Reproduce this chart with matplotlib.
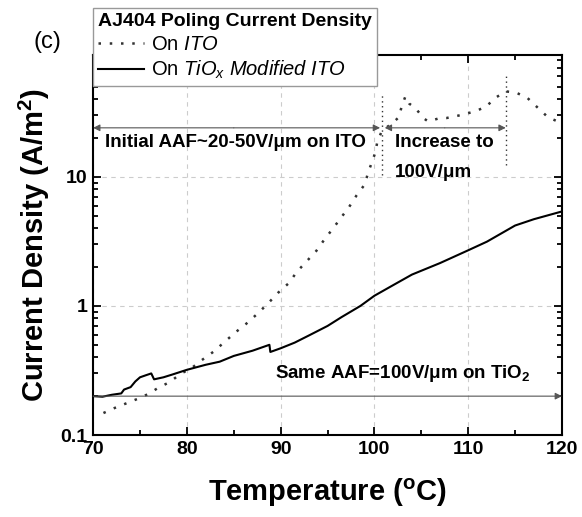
import matplotlib
matplotlib.use('Agg')
import matplotlib.pyplot as plt
from matplotlib.ticker import MultipleLocator, LogLocator, NullFormatter, FixedLocator, FixedFormatter

plt.rcParams['font.family'] = ['Liberation Sans', 'DejaVu Sans']
plt.rcParams['mathtext.fontset'] = 'custom'
plt.rcParams['mathtext.rm'] = 'Liberation Sans'
plt.rcParams['mathtext.it'] = 'Liberation Sans:italic'
plt.rcParams['mathtext.bf'] = 'Liberation Sans:bold'

# ITO (dotted) - temperature (C), current density (A/m^2)
ito_t = [71.1, 72.3, 74.7, 75.9, 76.9, 78.2, 79.3, 80.5, 81.6, 82.8, 83.9, 85.1,
         86.3, 87.5, 88.7, 89.7, 90.9, 91.7, 92.8, 93.8, 94.7, 95.6, 96.5, 97.3,
         98.1, 99.0, 99.3, 99.7, 100.1, 100.3, 100.8, 101.9, 102.6, 102.9, 103.3,
         103.7, 104.4, 105.2, 105.7, 106.2, 107.0, 107.7, 109.1, 109.9, 110.9,
         111.9, 112.9, 114.0, 115.1, 116.3, 117.3, 118.5, 120.0]
ito_j = [0.148, 0.162, 0.19, 0.208, 0.231, 0.258, 0.297, 0.33, 0.381, 0.44, 0.517, 0.618,
         0.725, 0.867, 1.055, 1.26, 1.51, 1.83, 2.23, 2.67, 3.3, 4.0, 4.9, 5.85,
         7.2, 8.8, 10.7, 12.8, 15.5, 18.6, 22.8, 26, 29, 35, 42,
         37, 34, 28.6, 27, 27.5, 28.6, 28.6, 30, 31, 32.6,
         35, 41, 46, 45, 41, 35, 29, 26]

# TiOx modified ITO (solid)
tio_t = [70.0, 71.0, 72.0, 73.0, 73.3, 74.0, 74.5, 75.0, 75.6, 76.2, 76.5, 77.5,
         78.5, 80.0, 82.0, 83.5, 85.0, 87.0, 88.8, 88.9, 90.0, 91.5, 93.0, 95.0,
         96.5, 98.5, 100.0, 102.0, 104.0, 107.0, 110.0, 112.0, 115.0, 117.0, 120.0]
tio_j = [0.200, 0.198, 0.205, 0.210, 0.225, 0.235, 0.26, 0.28, 0.29, 0.30, 0.27, 0.28,
         0.295, 0.32, 0.35, 0.37, 0.41, 0.45, 0.50, 0.44, 0.47, 0.52, 0.59, 0.70,
         0.82, 1.0, 1.2, 1.45, 1.75, 2.15, 2.7, 3.15, 4.2, 4.7, 5.4]

xticks = [70, 80, 90, 100, 110, 120]
yticks = [0.1, 1, 10]
ytick_labels = ['0.1', '1', '10']

fig = plt.figure(figsize=(5.82, 5.17), dpi=100)
ax = fig.add_axes([0.160, 0.1586, 0.8056, 0.735])

ax.plot(ito_t, ito_j, color='#333333', lw=1.8, linestyle=(0, (1, 3.5)),
        label='On $\\mathit{ITO}$')
ax.plot(tio_t, tio_j, color='black', lw=1.5, label='On $\\mathit{TiO_x\\ Modified\\ ITO}$')

ax.set_yscale('log')
ax.set_xlim(70, 120)
ax.set_ylim(0.1, 88)

ax.xaxis.set_major_locator(FixedLocator(xticks))
ax.xaxis.set_minor_locator(MultipleLocator(5))
ax.yaxis.set_major_locator(FixedLocator(yticks))
ax.yaxis.set_major_formatter(FixedFormatter(ytick_labels))
ax.yaxis.set_minor_locator(LogLocator(base=10, subs=range(2, 10)))
ax.yaxis.set_minor_formatter(NullFormatter())
ax.tick_params(which='both', direction='in', top=True, right=True, width=1.3)
ax.tick_params(which='major', length=6, labelsize=14, pad=4)
ax.tick_params(which='minor', length=3.5)
for lab in ax.get_xticklabels() + ax.get_yticklabels():
    lab.set_fontweight('bold')
for s in ax.spines.values():
    s.set_linewidth(1.5)

ax.grid(True, which='major', color='#cccccc', linestyle=(0, (4, 4)), lw=0.8)

ax.set_xlabel('Temperature ($^\\mathbf{o}$C)', fontsize=21, fontweight='bold', labelpad=14)
ax.set_ylabel('Current Density (A/m$^\\mathbf{2}$)', fontsize=21, fontweight='bold', labelpad=6)

# vertical dotted markers
ax.plot([100.8, 100.8], [10.4, 43], color='#333333', lw=1.0, linestyle=(0, (1, 2.5)))
ax.plot([114.0, 114.0], [12.4, 60], color='#333333', lw=1.0, linestyle=(0, (1, 2.5)))

# arrows
arr = dict(arrowstyle='-|>', color='#555555', lw=0.8, mutation_scale=10, shrinkA=0, shrinkB=0)
ax.annotate('', xy=(70, 24), xytext=(85, 24), arrowprops=arr)
ax.annotate('', xy=(100.6, 24), xytext=(85, 24), arrowprops=arr)
ax.annotate('', xy=(101.1, 24), xytext=(107.5, 24), arrowprops=arr)
ax.annotate('', xy=(114.0, 24), xytext=(107.5, 24), arrowprops=arr)
ax.annotate('', xy=(120, 0.2), xytext=(70, 0.2), arrowprops=arr)

ax.text(71.3, 18.5, 'Initial AAF~20-50V/\u03bcm on ITO', fontsize=13.5, fontweight='bold', va='center')
ax.text(102.2, 18.5, 'Increase to', fontsize=13.5, fontweight='bold', va='center')
ax.text(102.2, 10.8, '100V/\u03bcm', fontsize=13.5, fontweight='bold', va='center')
ax.text(89.4, 0.30, 'Same AAF=100V/\u03bcm on TiO$_\\mathbf{2}$', fontsize=13.5, fontweight='bold', va='center')

fig.text(0.058, 0.918, '(c)', fontsize=17, va='center')

leg = ax.legend(loc='upper left', bbox_to_anchor=(0.0, 1.124), borderaxespad=0,
                title='AJ404 Poling Current Density', fontsize=14.5, handlelength=2.3,
                frameon=True, fancybox=False, edgecolor='#999999', framealpha=1,
                borderpad=0.25, labelspacing=0.25, handletextpad=0.3)
leg.get_title().set_fontweight('bold')
leg.get_title().set_fontsize(14)
leg._legend_box.align = 'left'
leg.get_frame().set_linewidth(1.0)

fig.savefig('out.png', dpi=100)
